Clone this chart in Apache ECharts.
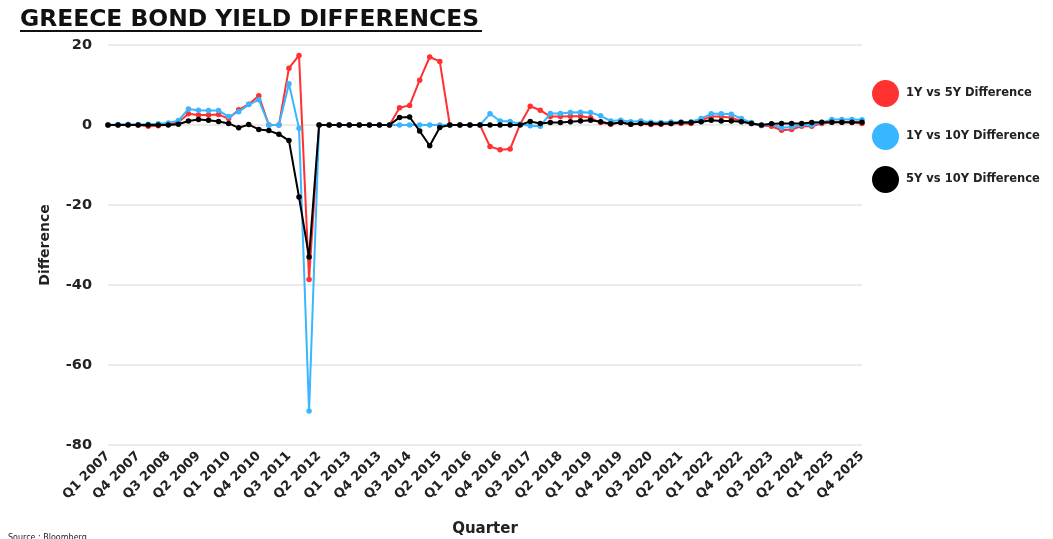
<!DOCTYPE html>
<html>
<head>
<meta charset="utf-8">
<script src="https://cdn.jsdelivr.net/npm/echarts@6/dist/echarts.min.js"></script>
<style>
  html, body { margin: 0; padding: 0; background: #ffffff; }
  #chart { width: 1053px; height: 539px; }
</style>
</head>
<body>
<div id="chart"></div>
<script>
// Quarterly axis, Q1 2007 .. Q4 2025
const years = [2007, 2008, 2009, 2010, 2011, 2012, 2013, 2014, 2015, 2016,
               2017, 2018, 2019, 2020, 2021, 2022, 2023, 2024, 2025];
const quarters = ['Q1', 'Q2', 'Q3', 'Q4'];
const categories = [];
years.forEach(y => quarters.forEach(q => categories.push(q + ' ' + y)));

// Yield spreads (percentage points)
const diff1y5y = [
  0, 0, 0.1, 0, -0.3, -0.2, 0.2, 0.7, 2.8, 2.5, 2.5, 2.6, 1.6, 3.8, 5.2, 7.3,
  0, 0, 14.2, 17.4, -38.6, 0, 0, 0, 0, 0, 0, 0, 0, 4.3, 4.9, 11.2,
  17.0, 15.9, 0, 0, 0, 0, -5.4, -6.2, -6.0, 0.2, 4.7, 3.7, 2.1, 2.1, 2.2, 2.2,
  1.8, 0.6, 0.2, 0.6, 0.2, 0.3, 0.1, 0.2, 0.4, 0.4, 0.4, 1.2, 2.1, 2.1, 1.8, 1.0,
  0.4, -0.1, -0.3, -1.3, -1.1, -0.3, -0.3, 0.4, 0.7, 0.7, 0.6, 0.4
];
const diff1y10y = [
  0, 0.1, 0.1, 0.1, 0.2, 0.3, 0.5, 1.1, 4.0, 3.7, 3.6, 3.6, 2.1, 3.3, 5.1, 6.3,
  0, 0, 10.3, -0.8, -71.5, 0, 0, 0, 0, 0, 0, 0, 0, 0, 0, 0,
  0, 0, 0, 0, 0, 0, 2.8, 1.0, 0.9, 0.2, -0.2, -0.3, 2.9, 2.9, 3.1, 3.2,
  3.1, 2.3, 1.0, 1.2, 0.8, 1.0, 0.7, 0.6, 0.75, 0.75, 0.8, 1.6, 2.8, 2.8, 2.7, 1.6,
  0.6, -0.1, 0.2, -0.7, -0.5, 0, 0, 0.6, 1.4, 1.4, 1.4, 1.3
];
const diff5y10y = [
  0, 0, 0, 0, 0, 0, 0, 0.2, 1.0, 1.4, 1.2, 0.9, 0.4, -0.7, 0.1, -1.1,
  -1.4, -2.3, -3.9, -18.0, -33.0, 0, 0, 0, 0, 0, 0, 0, 0, 1.9, 2.0, -1.5,
  -5.2, -0.6, 0, 0, 0, 0, 0, 0, 0, 0, 0.9, 0.4, 0.6, 0.6, 0.8, 1.0,
  1.2, 0.8, 0.3, 0.6, 0.2, 0.4, 0.3, 0.3, 0.4, 0.6, 0.6, 0.8, 1.2, 1.0, 1.0, 0.8,
  0.4, 0, 0.3, 0.4, 0.4, 0.4, 0.6, 0.7, 0.7, 0.7, 0.7, 0.7
];

const seriesNames = ['1Y vs 5Y Difference', '1Y vs 10Y Difference', '5Y vs 10Y Difference'];
const seriesColors = ['#ff3131', '#38b6ff', '#000000'];
const seriesData = [diff1y5y, diff1y10y, diff5y10y];

const FONT = '"DejaVu Sans", "Open Sans", sans-serif';

const chart = echarts.init(document.getElementById('chart'), null, { renderer: 'canvas' });

chart.setOption({
  animation: false,
  backgroundColor: '#ffffff',
  textStyle: { fontFamily: FONT },
  title: {
    text: 'GREECE BOND YIELD DIFFERENCES',
    left: 15,
    top: 3,
    textStyle: { fontFamily: FONT, fontSize: 23.4, fontWeight: 'bold', color: '#111111' }
  },
  graphic: [
    {
      type: 'line',
      shape: { x1: 20, y1: 31, x2: 482, y2: 31 },
      style: { stroke: '#111111', lineWidth: 2 }
    },
    {
      type: 'text',
      left: 8,
      top: 534,
      style: { text: 'Source : Bloomberg', fontFamily: FONT, fontSize: 8, fill: '#222222' }
    }
  ],
  legend: {
    orient: 'vertical',
    left: 867,
    top: 75,
    icon: 'circle',
    itemWidth: 27,
    itemHeight: 27,
    itemGap: 16,
    data: seriesNames,
    textStyle: { fontFamily: FONT, fontSize: 11.5, fontWeight: 'bold', color: '#222222', padding: [0, 0, 0, 2] }
  },
  grid: { left: 108, right: 191, top: 45, bottom: 94, outerBoundsMode: 'none' },
  xAxis: {
    type: 'category',
    data: categories,
    boundaryGap: false,
    name: 'Quarter',
    nameLocation: 'middle',
    nameGap: 77,
    nameTextStyle: { fontFamily: FONT, fontSize: 15, fontWeight: 'bold', color: '#222222' },
    axisLine: { show: false },
    axisTick: { show: false },
    axisLabel: {
      interval: 2,
      rotate: 45,
      margin: 9,
      fontFamily: FONT,
      fontSize: 13,
      fontWeight: 'bold',
      color: '#222222'
    },
    splitLine: { show: false }
  },
  yAxis: {
    type: 'value',
    min: -80,
    max: 20,
    interval: 20,
    name: 'Difference',
    nameLocation: 'middle',
    nameGap: 56,
    nameRotate: 90,
    nameTextStyle: { fontFamily: FONT, fontSize: 14, fontWeight: 'bold', color: '#222222' },
    axisLine: { show: false },
    axisTick: { show: false },
    axisLabel: { margin: 16, fontFamily: FONT, fontSize: 14.5, fontWeight: 'bold', color: '#222222' },
    splitLine: { lineStyle: { color: '#e4e4e4', width: 1.5 } }
  },
  series: seriesNames.map((name, k) => ({
    name: name,
    type: 'line',
    data: seriesData[k],
    z: 2 + k,
    symbol: 'circle',
    symbolSize: 5.5,
    showAllSymbol: true,
    itemStyle: { color: seriesColors[k] },
    lineStyle: { color: seriesColors[k], width: 2 }
  }))
});
</script>
</body>
</html>
